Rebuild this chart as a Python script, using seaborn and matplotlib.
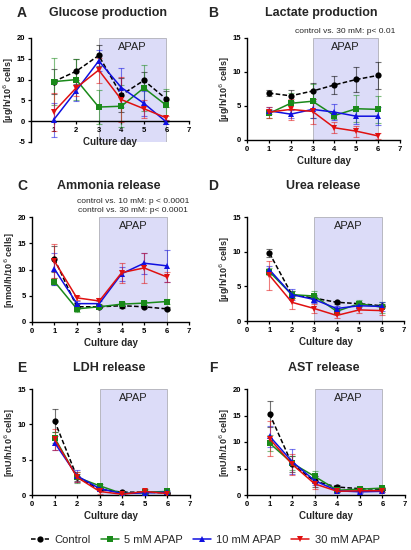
import numpy as np
import pandas as pd
import seaborn as sns
import matplotlib.pyplot as plt
from matplotlib.patches import Rectangle

sns.set_theme(style="ticks")
plt.rcParams['font.family'] = ['Liberation Sans', 'DejaVu Sans']
plt.rcParams['axes.unicode_minus'] = False

days = [1, 2, 3, 4, 5, 6]
groups = ["Control", "5 mM APAP", "10 mM APAP", "30 mM APAP"]
colors = {"Control": "black", "5 mM APAP": "#1a8a1a", "10 mM APAP": "#1010e0", "30 mM APAP": "#e01010"}

# glucose production
glu_mean = [[9.5, 12.0, 15.8, 6.3, 9.8, 5.3],
            [9.5, 10.0, 3.4, 3.6, 8.0, 3.8],
            [0.3, 7.3, 14.5, 8.1, 4.3, -0.2],
            [2.2, 8.0, 12.3, 5.2, 3.0, 0.8]]
glu_err = [[3.0, 3.0, 2.5, 4.0, 2.0, 2.0],
           [5.6, 5.0, 4.0, 5.0, 5.5, 4.0],
           [4.0, 2.5, 2.5, 4.7, 3.0, 0.5],
           [4.5, 2.0, 3.0, 5.5, 2.2, 0.5]]
# lactate production
lac_mean = [[6.9, 6.5, 7.2, 8.1, 8.9, 9.5],
            [3.9, 5.4, 5.7, 3.6, 4.6, 4.5],
            [4.3, 3.8, 4.5, 4.1, 3.5, 3.5],
            [4.1, 4.5, 4.2, 1.8, 1.3, 0.6]]
lac_err = [[0.4, 0.8, 1.2, 1.3, 1.8, 2.0],
           [0.6, 1.5, 2.5, 0.5, 2.0, 2.0],
           [0.5, 0.6, 1.2, 1.2, 1.2, 1.3],
           [0.8, 1.5, 1.8, 0.8, 0.8, 0.4]]
# ammonia release
amm_mean = [[12.0, 2.9, 2.9, 3.1, 2.9, 2.5],
            [7.7, 2.5, 2.9, 3.4, 3.6, 3.9],
            [10.1, 3.5, 3.5, 9.2, 11.2, 10.7],
            [11.6, 4.6, 4.0, 9.4, 10.3, 8.6]]
amm_err = [[2.5, 0.5, 0.3, 0.5, 0.3, 0.3],
           [0.6, 0.5, 0.3, 0.4, 0.4, 0.4],
           [3.0, 0.5, 0.5, 1.3, 2.0, 3.0],
           [3.2, 0.4, 0.5, 1.9, 2.8, 0.9]]
# urea release
urea_mean = [[9.8, 3.8, 3.3, 2.7, 2.5, 2.2],
             [7.1, 3.8, 3.6, 1.4, 2.5, 2.0],
             [7.4, 3.8, 3.1, 1.8, 2.2, 2.1],
             [6.6, 2.7, 1.8, 0.8, 1.6, 1.5]]
urea_err = [[0.6, 0.5, 0.5, 0.2, 0.3, 0.3],
            [0.5, 0.5, 0.7, 0.4, 0.5, 0.8],
            [0.6, 0.8, 0.5, 0.4, 0.4, 0.7],
            [2.1, 1.0, 0.6, 0.3, 0.5, 0.6]]
# LDH release
ldh_mean = [[10.5, 2.5, 0.8, 0.4, 0.4, 0.3],
            [8.1, 2.5, 1.3, 0.2, 0.4, 0.5],
            [7.4, 2.7, 0.9, 0.2, 0.3, 0.4],
            [7.9, 2.5, 0.5, 0.1, 0.5, 0.2]]
ldh_err = [[1.6, 0.5, 0.2, 0.1, 0.1, 0.1],
           [0.8, 0.8, 0.3, 0.1, 0.2, 0.2],
           [1.0, 0.8, 0.3, 0.1, 0.1, 0.1],
           [1.5, 0.7, 0.3, 0.1, 0.3, 0.1]]
# AST release
ast_mean = [[15.3, 5.8, 2.6, 1.5, 1.2, 1.1],
            [9.8, 6.0, 3.5, 0.9, 1.1, 1.3],
            [11.1, 6.3, 2.7, 0.8, 0.6, 0.7],
            [10.6, 5.8, 2.1, 0.7, 0.8, 0.8]]
ast_err = [[2.5, 1.5, 1.0, 0.3, 0.2, 0.2],
           [1.5, 1.3, 1.0, 0.3, 0.3, 0.3],
           [2.0, 2.3, 0.8, 0.2, 0.2, 0.2],
           [3.3, 2.0, 0.9, 0.2, 0.2, 0.2]]

panels = [
    ("A", "Glucose production", glu_mean, glu_err, (-5, 20), 5, "[µg/h/10$^6$ cells]", None),
    ("B", "Lactate production", lac_mean, lac_err, (0, 15), 5, "[µg/h/10$^6$ cells]",
     "control vs. 30 mM: p< 0.01"),
    ("C", "Ammonia release", amm_mean, amm_err, (0, 20), 5, "[nmol/h/10$^6$ cells]",
     "control vs. 10 mM: p < 0.0001\ncontrol vs. 30 mM: p< 0.0001"),
    ("D", "Urea release", urea_mean, urea_err, (0, 15), 5, "[µg/h/10$^6$ cells]", None),
    ("E", "LDH release", ldh_mean, ldh_err, (0, 15), 5, "[mU/h/10$^6$ cells]", None),
    ("F", "AST release", ast_mean, ast_err, (0, 20), 5, "[mU/h/10$^6$ cells]", None),
]

W, H = 411, 550
boxes = [(31, 38, 189, 142), (247, 38, 400, 140),
         (32, 217, 189, 322), (247, 217, 404, 321),
         (32, 389, 190, 495), (247, 389, 405, 495)]
title_y = {"A": 13, "B": 13, "C": 186, "D": 186, "E": 368, "F": 368}

markers = {"Control": "o", "5 mM APAP": "s", "10 mM APAP": "^", "30 mM APAP": "v"}
dashes = {"Control": (3, 1.5), "5 mM APAP": "", "10 mM APAP": "", "30 mM APAP": ""}

fig = plt.figure(figsize=(W / 100, H / 100), dpi=100)

for (letter, title, means, errs, ylim, ystep, ylabel, note), (x0, y0, x1, y1) in zip(panels, boxes):
    ax = fig.add_axes([x0 / W, 1 - y1 / H, (x1 - x0) / W, (y1 - y0) / H])
    rows = []
    for g, m in zip(groups, means):
        for d, v in zip(days, m):
            rows.append({"day": d, "value": v, "group": g})
    df = pd.DataFrame(rows)

    ax.add_patch(Rectangle((3, ylim[0]), 3, ylim[1] - ylim[0], facecolor="#dcdcf8",
                           edgecolor="#b0b0b8", linewidth=0.6, zorder=0))
    ax.text(4.5, ylim[1] - (ylim[1] - ylim[0]) * 0.04, "APAP", ha="center", va="top",
            fontsize=8, color="#222222")

    for g, m, e in zip(groups, means, errs):
        ax.errorbar(days, m, yerr=e, fmt="none", ecolor=colors[g], alpha=0.55,
                    elinewidth=0.8, capsize=2, capthick=0.8, zorder=2)
    sns.lineplot(data=df, x="day", y="value", hue="group", style="group",
                 palette=colors, markers=markers, dashes=dashes, markersize=4.5,
                 markeredgewidth=0, linewidth=1.1, ax=ax, legend=(letter == "A"), zorder=3)

    ax.set_xlim(0, 7)
    ax.set_ylim(*ylim)
    ax.set_yticks(np.arange(ylim[0], ylim[1] + 0.1, ystep))
    if letter == "A":
        ax.spines["bottom"].set_position(("data", 0))
        ax.set_xticks(range(1, 8))
        handles, labels = ax.get_legend_handles_labels()
        ax.get_legend().remove()
    else:
        ax.set_xticks(range(0, 8))
    sns.despine(ax=ax)
    for s in ["left", "bottom"]:
        ax.spines[s].set_linewidth(1.0)
        ax.spines[s].set_color("black")
    ax.tick_params(axis="both", labelsize=5.5, length=2.5, width=0.9, pad=1.5, colors="black")
    for lab in ax.get_xticklabels() + ax.get_yticklabels():
        lab.set_fontweight("bold")
    ax.set_xlabel("")
    ax.set_ylabel(ylabel, fontsize=6.5, fontweight="bold", labelpad=1)

    # "Culture day" sits about 21 px under the x axis line
    base = 0 if letter == "A" else ylim[0]
    ax.annotate("Culture day", xy=(0.5, base), xycoords=("axes fraction", "data"),
                xytext=(0, -15), textcoords="offset points", ha="center", va="center",
                fontsize=7, fontweight="bold")

    if note:
        ax.text(4.5, ylim[1] + (ylim[1] - ylim[0]) * 0.03, note, ha="center", va="bottom",
                fontsize=6, linespacing=1.3)

    ty = title_y[letter]
    lx = 22 if letter in "ACE" else 213
    fig.text(lx / W, 1 - ty / H, letter, fontsize=10, fontweight="bold", ha="center", va="center")
    fig.text(((x0 + x1) / 2 - 2) / W, 1 - ty / H, title, fontsize=9, fontweight="bold",
             ha="center", va="center")

fig.legend(handles, labels, loc="center", bbox_to_anchor=(0.5, 1 - 540 / H), ncol=4,
           frameon=False, fontsize=8, handlelength=1.6, columnspacing=0.9, handletextpad=0.5)

fig.savefig("out.png", dpi=100)
